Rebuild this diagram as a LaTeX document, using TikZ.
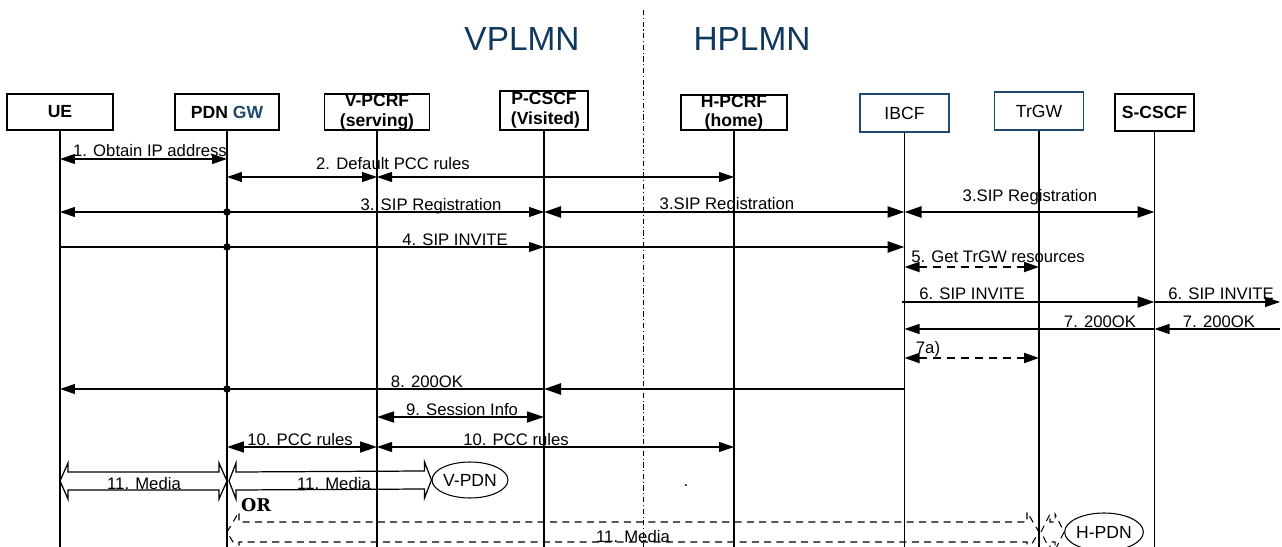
\documentclass[tikz,border=0pt]{standalone}
\usepackage{fontspec}
\setmainfont{Liberation Sans}
\newfontfamily\orfont{DejaVu Serif}
\usetikzlibrary{positioning,arrows.meta,calc,shapes.geometric}
\definecolor{plmnblue}{RGB}{16,55,92}
\definecolor{ibcfblue}{RGB}{31,73,110}
\tikzset{
  >={Triangle[length=0.3cm,width=0.2cm]},
  entity/.style={draw, line width=0.8pt, fill=white, align=center, inner sep=0pt, minimum height=0.72cm, font=\fontsize{10}{10.5}\selectfont\bfseries},
  ientity/.style={entity, draw=ibcfblue, line width=1.1pt, font=\fontsize{10}{11}\selectfont},
  plmn/.style={text=plmnblue, inner sep=0pt, font=\fontsize{19}{22}\selectfont},
  divider/.style={line width=0.5pt, dash pattern=on 3pt off 1.5pt on 0.6pt off 1.5pt},
  lifeline/.style={line width=1pt},
  msg/.style={line width=0.6pt},
  thickmsg/.style={line width=1.4pt, >={Triangle[length=0.34cm,width=0.22cm]}},
  dmsg/.style={line width=1.1pt, dash pattern=on 4.5pt off 3.5pt},
  lbl/.style={inner sep=0pt, font=\fontsize{9.5}{11}\selectfont},
  pdn/.style={draw, ellipse, line width=0.6pt, inner sep=0pt, font=\fontsize{10}{12}\selectfont},
  media/.style={line width=0.7pt},
  dmedia/.style={line width=0.6pt, dash pattern=on 4pt off 3pt},
  dot/.style={circle, fill, inner sep=0pt, minimum size=0.15cm}
}
% fat double arrow: #2 left tip, #3 right tip, #4 head length, #5 barb, #6 half shaft
\newcommand{\mediaarrow}[6][]{%
  \draw[#1] (#2) -- ++(#4,-#5) -- ++(0,#5-#6) -- ($(#3)+(-#4,-#6)$) -- ++(0,#6-#5)
    -- (#3) -- ++(-#4,#5) -- ++(0,#6-#5) -- ($(#2)+(#4,#6)$) -- ++(0,#5-#6) -- cycle;}

\begin{document}
\begin{tikzpicture}[x=0.02cm, y=-0.02cm]
  \useasboundingbox (0,0) rectangle (1282,547);
  \coordinate (bot) at (0,547);

  % visited / home network
  \node[plmn] (vplmn) at (522,39) {VPLMN};
  \node[plmn] (hplmn) at (752,39) {HPLMN};
  \coordinate (divtop) at (643,10);
  \draw[divider] (divtop) -- (divtop |- bot);

  % entities
  \node[entity, minimum width=2.12cm] (ue) at (60,112) {UE};
  \node[entity, minimum width=2.08cm] (pgw) at (227,112) {PDN \textcolor{ibcfblue}{GW}};
  \node[entity, minimum width=2.1cm] (vpcrf) at (377,112) {V-PCRF\\[1pt](serving)};
  \node[entity, minimum width=1.76cm, minimum height=0.78cm] (pcscf) at (544,110.5) {P-CSCF\\[1pt]\,(Visited)};
  \node[entity, minimum width=2.12cm, minimum height=0.7cm] (hpcrf) at (734,112.5) {H-PCRF\\(home)};
  \node[ientity, minimum width=1.78cm, minimum height=0.76cm] (ibcf) at (904.5,113) {IBCF};
  \node[ientity, minimum width=1.78cm, minimum height=0.76cm] (trgw) at (1039,111) {TrGW};
  \node[entity, minimum width=1.58cm, minimum height=0.74cm] (scscf) at (1154.5,112.5) {S-CSCF};

  \foreach \e in {ue,pgw,vpcrf,pcscf,hpcrf,ibcf,trgw,scscf}
    \draw[lifeline] (\e.south) -- (\e.south |- bot);

  % message rows
  \coordinate (m1) at (0,159);
  \coordinate (m2) at (0,177);
  \coordinate (m3) at (0,212);
  \coordinate (m4) at (0,247);
  \coordinate (m5) at (0,267);
  \coordinate (m6) at (0,302);
  \coordinate (m7) at (0,329);
  \coordinate (m7a) at (0,358);
  \coordinate (m8) at (0,389);
  \coordinate (m9) at (0,417);
  \coordinate (m10) at (0,447);
  \coordinate (m11) at (0,481);
  \coordinate (m11b) at (0,532);
  \coordinate (redge) at (1280,0);

  % 1
  \draw[msg, <->] (ue |- m1) -- (pgw |- m1);
  \node[lbl] (l1) at (150,151) {1. Obtain IP address};
  % 2
  \draw[msg, <->] (pgw |- m2) -- (vpcrf |- m2);
  \draw[msg, <->] (vpcrf |- m2) -- (hpcrf |- m2);
  \node[lbl] (l2) at (393,164) {2. Default PCC rules};
  % 3
  \draw[msg, <->] (ue |- m3) -- (pcscf |- m3);
  \node[dot] (d3) at (pgw |- m3) {};
  \draw[thickmsg, <->] (pcscf |- m3) -- (ibcf |- m3);
  \draw[thickmsg, <->] (ibcf |- m3) -- (scscf |- m3);
  \node[lbl] (l3a) at (431,206) {3. SIP Registration};
  \node[lbl] (l3b) at (727,205) {3.SIP Registration};
  \node[lbl] (l3c) at (1030,197) {3.SIP Registration};
  % 4
  \draw[msg, ->] (ue |- m4) -- (pcscf |- m4);
  \node[dot] (d4) at (pgw |- m4) {};
  \draw[thickmsg, ->] (pcscf |- m4) -- (ibcf |- m4);
  \node[lbl] (l4) at (455,240) {4. SIP INVITE};
  % 5
  \draw[dmsg, <->] (ibcf |- m5) -- (trgw |- m5);
  \node[lbl] (l5) at (998,257) {5. Get TrGW resources};
  % 6
  \draw[thickmsg, ->] ($(ibcf |- m6)+(-3,0)$) -- (scscf |- m6);
  \draw[msg, ->] (scscf |- m6) -- (redge |- m6);
  \node[lbl] (l6a) at (972,294) {6. SIP INVITE};
  \node[lbl] (l6b) at (1221,294) {6. SIP INVITE};
  % 7
  \draw[msg, ->] (redge |- m7) -- (scscf |- m7);
  \draw[msg, ->] (scscf |- m7) -- (ibcf |- m7);
  \node[lbl] (l7a) at (1100,322) {7. 200OK};
  \node[lbl] (l7b) at (1219,322) {7. 200OK};
  % 7a
  \draw[dmsg, <->] (ibcf |- m7a) -- (trgw |- m7a);
  \node[lbl] (l7x) at (928,349) {7a)};
  % 8
  \draw[thickmsg, ->] (ibcf |- m8) -- (pcscf |- m8);
  \draw[msg, ->] (pcscf |- m8) -- (ue |- m8);
  \node[dot] (d8) at (pgw |- m8) {};
  \node[lbl] (l8) at (427,382) {8. 200OK};
  % 9
  \draw[thickmsg, line width=1pt, <->] (vpcrf |- m9) -- (pcscf |- m9);
  \node[lbl] (l9) at (462,410) {9. Session Info};
  % 10
  \draw[thickmsg, line width=1pt, <->] (pgw |- m10) -- (vpcrf |- m10);
  \draw[msg, <->] (vpcrf |- m10) -- (hpcrf |- m10);
  \node[lbl] (l10a) at (300,440) {10. PCC rules};
  \node[lbl] (l10b) at (516,440) {10. PCC rules};

  % 11 media
  \node[pdn, minimum width=1.26cm, minimum height=0.72cm] (vpdn) at (470,480) {V-PDN};
  \node[pdn, minimum width=1.34cm, minimum height=0.76cm] (hpdn) at (1104,532) {H-PDN};
  \mediaarrow[media]{ue |- m11}{pgw |- m11}{8}{18}{9}
  \mediaarrow[media]{$(pgw |- m11)+(2,0)$}{vpdn.west}{7}{18}{9}
  \node[lbl] (l11a) at (144,484) {11. Media};
  \node[lbl] (l11b) at (334,484) {11. Media};
  \node[inner sep=0pt, font=\orfont\bfseries\fontsize{10}{12}\selectfont] (or) at (256,505) {OR};
  \mediaarrow[dmedia]{pgw |- m11b}{trgw |- m11b}{12}{20}{10}
  \mediaarrow[dmedia]{$(trgw |- m11b)+(2,0)$}{hpdn.west}{9}{18}{10}
  \node[lbl] (l11c) at (633,537) {11. Media};
  \node[lbl] (stray) at (686,486) {.};
\end{tikzpicture}
\end{document}
